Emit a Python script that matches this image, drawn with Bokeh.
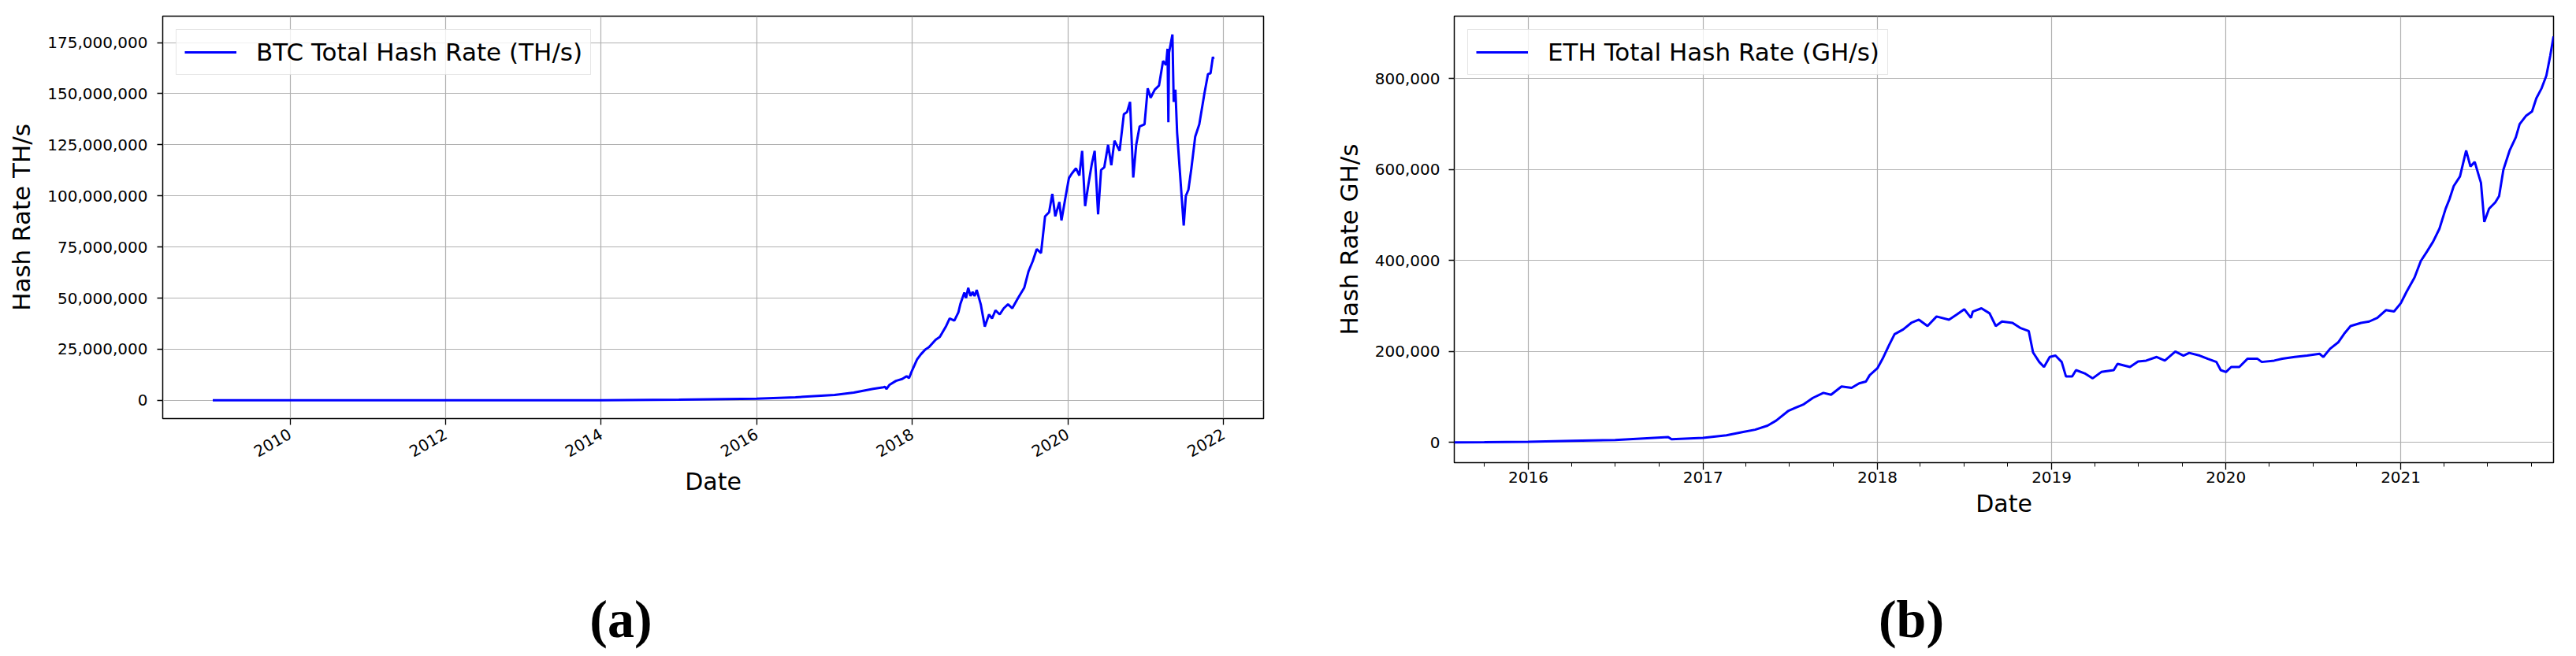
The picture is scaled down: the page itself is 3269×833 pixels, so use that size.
import math
import pandas as pd
from bokeh.plotting import figure
from bokeh.layouts import column, row
from bokeh.models import (FixedTicker, NumeralTickFormatter, DatetimeTickFormatter,
                          Legend, LegendItem, Range1d, Label, ColumnDataSource)
from bokeh.embed import file_html
from bokeh.resources import INLINE

# ---------------- data ----------------
btc_dates = [
    "2009-01-03", "2010-01-01", "2011-01-01", "2012-01-01", "2013-01-01", "2014-01-01",
    "2015-01-01", "2016-01-01", "2016-07-01", "2017-01-01", "2017-04-01", "2017-07-01",
    "2017-08-19", "2017-08-25", "2017-09-01", "2017-09-15", "2017-10-16", "2017-11-14",
    "2017-12-05", "2017-12-16", "2017-12-30", "2018-01-23", "2018-02-10", "2018-03-02",
    "2018-03-20", "2018-04-20", "2018-05-10", "2018-06-07", "2018-06-25", "2018-07-17",
    "2018-08-05", "2018-08-14", "2018-09-02", "2018-09-10", "2018-09-20", "2018-10-01",
    "2018-10-11", "2018-10-20", "2018-10-30", "2018-11-18", "2018-12-07", "2018-12-27",
    "2019-01-10", "2019-01-26", "2019-02-15", "2019-03-06", "2019-03-26", "2019-04-15",
    "2019-05-12", "2019-06-10", "2019-06-30", "2019-07-20", "2019-08-08", "2019-08-28",
    "2019-09-16", "2019-10-05", "2019-10-20", "2019-11-03", "2019-11-22", "2019-12-02",
    "2019-12-22", "2020-01-06", "2020-01-20", "2020-02-08", "2020-02-24", "2020-03-08",
    "2020-03-22", "2020-04-07", "2020-04-23", "2020-05-06", "2020-05-22", "2020-06-05",
    "2020-06-20", "2020-07-08", "2020-07-23", "2020-08-07", "2020-08-31", "2020-09-20",
    "2020-10-05", "2020-10-19", "2020-11-03", "2020-11-17", "2020-12-03", "2020-12-26",
    "2021-01-10", "2021-01-24", "2021-02-12", "2021-03-04", "2021-03-23", "2021-04-06",
    "2021-04-13", "2021-04-17", "2021-04-20", "2021-05-06", "2021-05-12", "2021-05-20",
    "2021-05-28", "2021-06-28", "2021-07-08", "2021-07-20", "2021-08-03", "2021-08-21",
    "2021-09-09", "2021-10-03", "2021-10-20", "2021-11-01", "2021-11-12", "2021-11-15",
]
btc_hash = [  # TH/s
    0.000005, 0.000006, 0.1, 8, 22, 12000,
    330000, 800000, 1500000, 2600000, 3800000, 5600000,
    6400000, 6600000, 5500000, 7500000, 9500000, 10400000,
    11800000, 10800000, 14400000, 20000000, 22500000, 24800000,
    26000000, 29600000, 31000000, 36000000, 40000000, 39000000,
    43000000, 47000000, 52700000, 50000000, 55000000, 51000000,
    53000000, 51000000, 54000000, 47000000, 36000000, 42000000,
    40000000, 44000000, 42000000, 45000000, 47000000, 45000000,
    50000000, 55000000, 63000000, 68000000, 74000000, 72000000,
    90000000, 92000000, 101000000, 90000000, 97000000, 88000000,
    100000000, 108700000, 111000000, 113500000, 110000000, 122000000,
    95000000, 106000000, 116000000, 122000000, 91000000, 112700000,
    114000000, 125000000, 115000000, 127000000, 122000000, 140000000,
    141000000, 146000000, 109000000, 125000000, 134000000, 135000000,
    152600000, 148000000, 152000000, 154000000, 166000000, 164000000,
    172000000, 136000000, 170000000, 179000000, 146000000, 152000000,
    131000000, 85500000, 100000000, 103000000, 113500000, 129000000,
    135000000, 150000000, 159600000, 160000000, 168000000, 167000000,
]

eth_dates = [
    "2015-07-30", "2015-10-01", "2016-01-01", "2016-04-01", "2016-07-01", "2016-10-20",
    "2016-10-27", "2017-01-01", "2017-02-19", "2017-03-26", "2017-04-20", "2017-05-16",
    "2017-06-03", "2017-06-28", "2017-07-15", "2017-07-31", "2017-08-19", "2017-09-10",
    "2017-09-26", "2017-10-18", "2017-11-08", "2017-11-24", "2017-12-08", "2017-12-16",
    "2018-01-01", "2018-01-12", "2018-01-25", "2018-02-06", "2018-02-24", "2018-03-13",
    "2018-03-29", "2018-04-16", "2018-05-05", "2018-05-31", "2018-06-16", "2018-07-02",
    "2018-07-16", "2018-07-20", "2018-08-07", "2018-08-24", "2018-09-06", "2018-09-19",
    "2018-10-11", "2018-10-27", "2018-11-14", "2018-11-23", "2018-12-06", "2018-12-16",
    "2018-12-28", "2019-01-09", "2019-01-22", "2019-01-31", "2019-02-13", "2019-02-21",
    "2019-03-11", "2019-03-28", "2019-04-15", "2019-05-11", "2019-05-19", "2019-06-14",
    "2019-07-01", "2019-07-18", "2019-08-09", "2019-08-26", "2019-09-17", "2019-10-04",
    "2019-10-16", "2019-11-07", "2019-11-24", "2019-12-12", "2019-12-21", "2020-01-01",
    "2020-01-12", "2020-01-29", "2020-02-15", "2020-03-07", "2020-03-16", "2020-04-11",
    "2020-04-28", "2020-05-24", "2020-06-19", "2020-07-15", "2020-07-23", "2020-08-06",
    "2020-08-23", "2020-09-06", "2020-09-18", "2020-10-10", "2020-10-27", "2020-11-13",
    "2020-12-01", "2020-12-18", "2021-01-01", "2021-01-13", "2021-01-30", "2021-02-12",
    "2021-02-25", "2021-03-10", "2021-03-23", "2021-04-05", "2021-04-13", "2021-04-22",
    "2021-05-05", "2021-05-18", "2021-05-27", "2021-06-05", "2021-06-14", "2021-06-18",
    "2021-06-25", "2021-07-05", "2021-07-18", "2021-07-26", "2021-08-04", "2021-08-17",
    "2021-08-30", "2021-09-07", "2021-09-20", "2021-10-03", "2021-10-12", "2021-10-23",
    "2021-11-02", "2021-11-10", "2021-11-17",
]
eth_hash = [  # GH/s
    150, 500, 1500, 3500, 5500, 12000,
    7000, 10000, 15800, 23000, 28000, 37000,
    48000, 69000, 77000, 84000, 98000, 109000,
    105000, 123000, 120000, 130000, 134000, 148000,
    163000, 184000, 213000, 238000, 248500, 263000,
    270000, 256000, 277000, 270000, 281000, 293000,
    274000, 288000, 295000, 284000, 256000, 266000,
    263000, 252000, 245000, 198000, 177000, 166000,
    188000, 191000, 177000, 145000, 145000, 159000,
    152000, 141000, 155000, 159000, 173000, 166000,
    178000, 180000, 188000, 180000, 200000, 191000,
    197000, 191000, 184000, 177000, 159000, 155000,
    166000, 166000, 184000, 184000, 177000, 180000,
    184000, 188000, 191000, 195000, 188000, 206000,
    220000, 241000, 256000, 263000, 266000, 274000,
    291000, 288000, 306000, 331000, 363000, 399000,
    420000, 442000, 470000, 514000, 535000, 564000,
    585000, 642000, 607000, 617000, 585000, 571000,
    485000, 514000, 528000, 542000, 600000, 642000,
    671000, 700000, 718000, 728000, 757000, 779000,
    807000, 850000, 893000,
]

btc_year_ticks = [2010, 2012, 2014, 2016, 2018, 2020, 2022]
btc_y_ticks = [0, 25000000, 50000000, 75000000, 100000000, 125000000, 150000000, 175000000]
eth_year_ticks = [2016, 2017, 2018, 2019, 2020, 2021]
eth_y_ticks = [0, 200000, 400000, 600000, 800000]

btc_legend = "BTC Total Hash Rate (TH/s)"
eth_legend = "ETH Total Hash Rate (GH/s)"
btc_ylabel = "Hash Rate TH/s"
eth_ylabel = "Hash Rate GH/s"
xlabel = "Date"
captions = ["(a)", "(b)"]

FONT = "DejaVu Sans"


def to_ms(dates):
    idx = pd.to_datetime(dates)
    return [float(v) for v in (idx - pd.Timestamp("1970-01-01")) // pd.Timedelta(milliseconds=1)]


def margins(vals, frac):
    lo, hi = min(vals), max(vals)
    span = hi - lo
    return lo - frac * span, hi + frac * span


def style(p, ylabel, yticks):
    p.outline_line_color = "black"
    p.outline_line_width = 1.5
    p.outline_line_alpha = 1.0
    p.background_fill_color = "white"
    p.border_fill_color = "white"
    for ax in (p.xaxis[0], p.yaxis[0]):
        ax.axis_line_color = None
        ax.major_tick_line_color = "black"
        ax.major_tick_line_width = 1.3
        ax.major_tick_in = 0
        ax.minor_tick_line_color = None
        ax.major_label_text_font = FONT
        ax.major_label_text_font_size = "20px"
        ax.major_label_text_color = "black"
        ax.axis_label_text_font = FONT
        ax.axis_label_text_font_style = "normal"
        ax.axis_label_text_color = "black"
    p.xaxis.axis_label_text_font_size = "30px"
    p.yaxis.axis_label_text_font_size = "31px"
    p.xaxis.axis_label = xlabel
    p.yaxis.axis_label = ylabel
    p.yaxis.ticker = FixedTicker(ticks=yticks)
    p.yaxis.formatter = NumeralTickFormatter(format="0,0")
    p.yaxis.major_tick_out = 7
    p.yaxis.major_label_standoff = 12
    p.yaxis.axis_label_standoff = 12
    p.xaxis.formatter = DatetimeTickFormatter(years="%Y", months="%Y", days="%Y")
    p.grid.grid_line_color = "#b0b0b0"
    p.grid.grid_line_width = 1.2


def add_legend(p, r, label):
    lg = Legend(items=[LegendItem(label=label, renderers=[r])], location="top_left",
                margin=17, padding=10, spacing=0, glyph_width=66, glyph_height=20,
                label_standoff=25, label_text_font=FONT, label_text_font_size="31px",
                label_text_color="black",
                border_line_color="#cccccc", border_line_width=1.5,
                background_fill_color="white", background_fill_alpha=0.8)
    p.add_layout(lg)


BOTTOM = 110  # shared bottom border (row plots get equal borders)

# ---------------- BTC panel ----------------
btc_x = to_ms(btc_dates)
bx0, bx1 = margins(btc_x, 0.05)
by0, by1 = margins(btc_hash, 0.05)
p1 = figure(width=1690, height=20 + 511 + BOTTOM, x_axis_type="datetime",
            x_range=Range1d(bx0, bx1), y_range=Range1d(by0, by1),
            output_backend="svg", toolbar_location=None,
            min_border_left=206, min_border_right=87, min_border_top=20,
            min_border_bottom=BOTTOM)
style(p1, btc_ylabel, btc_y_ticks)
p1.xaxis.ticker = FixedTicker(ticks=to_ms([f"{y}-01-01" for y in btc_year_ticks]))
p1.xaxis.major_label_orientation = math.pi / 6
p1.xaxis.major_tick_out = 8
p1.xaxis.major_label_standoff = 10
p1.xaxis.axis_label_standoff = 4
r1 = p1.line("x", "y", source=ColumnDataSource(dict(x=btc_x, y=btc_hash)),
             line_color="blue", line_width=3)
add_legend(p1, r1, btc_legend)

# ---------------- ETH panel ----------------
eth_x = to_ms(eth_dates)
ex0, ex1 = min(eth_x), max(eth_x)
ey0, ey1 = margins(eth_hash, 0.05)
p2 = figure(width=1571, height=20 + 567 + BOTTOM, x_axis_type="datetime",
            x_range=Range1d(ex0, ex1), y_range=Range1d(ey0, ey1),
            output_backend="svg", toolbar_location=None,
            min_border_left=153, min_border_right=21, min_border_top=20,
            min_border_bottom=BOTTOM)
style(p2, eth_ylabel, eth_y_ticks)
p2.yaxis.major_label_standoff = 11
eth_minor = [f"{y}-{m:02d}-01" for y in range(2015, 2022) for m in (4, 7, 10)]
p2.xaxis.ticker = FixedTicker(ticks=to_ms([f"{y}-01-01" for y in eth_year_ticks]),
                              minor_ticks=to_ms(eth_minor))
p2.xaxis.minor_tick_line_color = "black"
p2.xaxis.minor_tick_line_width = 1.0
p2.xaxis.minor_tick_in = 0
p2.xaxis.minor_tick_out = 5
p2.xaxis.major_tick_out = 9
p2.xaxis.major_label_standoff = 2
p2.xaxis.axis_label_standoff = 6
r2 = p2.line("x", "y", source=ColumnDataSource(dict(x=eth_x, y=eth_hash)),
             line_color="blue", line_width=3)
add_legend(p2, r2, eth_legend)

# ---------------- captions ----------------
CAP_W, CAP_H = 3261, 825 - (20 + 567 + BOTTOM)
cap = figure(width=CAP_W, height=CAP_H, x_range=Range1d(0, CAP_W), y_range=Range1d(0, CAP_H),
             output_backend="svg", toolbar_location=None,
             x_axis_location=None, y_axis_location=None, min_border=0)
cap.grid.visible = False
cap.outline_line_color = None
cap.background_fill_color = "white"
cap.border_fill_color = "white"
for txt, cx in zip(captions, [787.5, 2425]):
    cap.add_layout(Label(x=cx, y=40, text=txt, text_font="Liberation Serif",
                         text_font_size="68px", text_font_style="bold",
                         text_align="center", text_baseline="middle", text_color="black"))

layout = column(row(p1, p2), cap)
open("out.html", "w").write(file_html(layout, INLINE))
